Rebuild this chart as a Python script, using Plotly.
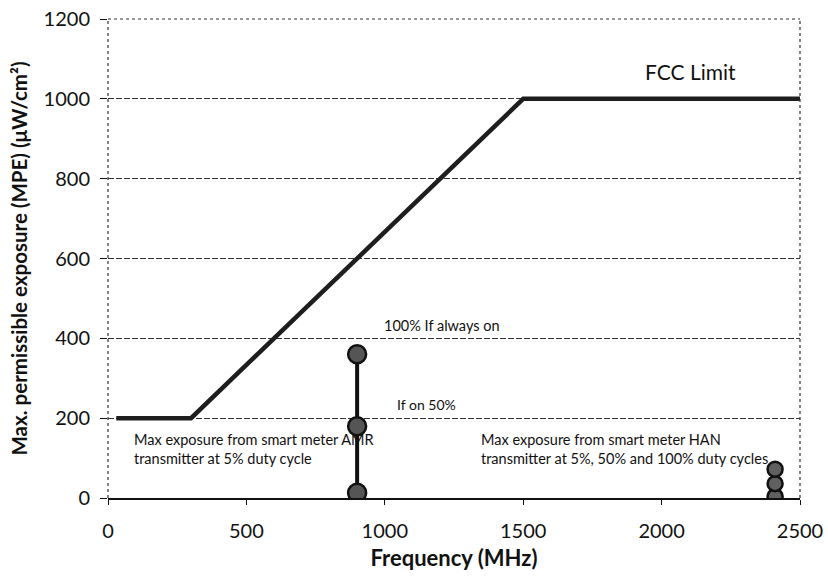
import plotly.graph_objects as go

# Data
fcc_freq = [30, 300, 1500, 2500]
fcc_mpe = [200, 200, 1000, 1000]
amr_freq = [900, 900, 900]
amr_mpe = [13, 180, 360]
han_freq = [2410, 2410, 2410]
han_mpe = [3.6, 36, 72]
x_ticks = [0, 500, 1000, 1500, 2000, 2500]
y_ticks = [0, 200, 400, 600, 800, 1000, 1200]

FONT = "Lato, 'Open Sans', sans-serif"

fig = go.Figure()
fig.add_trace(go.Scatter(x=fcc_freq, y=fcc_mpe, mode="lines",
                         line=dict(color="#1e1e1e", width=4.5), hoverinfo="skip"))
fig.add_trace(go.Scatter(x=amr_freq, y=amr_mpe, mode="lines+markers",
                         line=dict(color="#111", width=4),
                         marker=dict(size=18, color="#555555", line=dict(color="#111", width=2.5))))
fig.add_trace(go.Scatter(x=han_freq, y=han_mpe, mode="markers",
                         marker=dict(size=15, color="#606060", line=dict(color="#111", width=2.5))))

anns = [
    dict(x=1933, y=1069, text="FCC Limit", font=dict(size=21, color="#111"), xanchor="left", yanchor="middle"),
    dict(x=1207, y=405, text="100% If always on", font=dict(size=14.5, color="#111"), xanchor="center", yanchor="bottom"),
    dict(x=1152, y=234, text="If on 50%", font=dict(size=14, color="#111"), xanchor="center", yanchor="middle"),
    dict(x=88, y=124, text="Max exposure from smart meter AMR<br>transmitter at 5% duty cycle",
         font=dict(size=14.5, color="#111"), xanchor="left", yanchor="middle", align="left"),
    dict(x=1342, y=124, text="Max exposure from smart meter HAN<br>transmitter at 5%, 50% and 100% duty cycles",
         font=dict(size=14.5, color="#111"), xanchor="left", yanchor="middle", align="left"),
]
for a in anns:
    fig.add_annotation(showarrow=False, xref="x", yref="y", **a)

# dotted frame left/top/right
for (x0, x1, y0, y1) in [(0, 1, 1, 1), (1, 1, 0, 1), (0, 0, 0, 1)]:
    fig.add_shape(type="line", xref="paper", yref="paper", x0=x0, x1=x1, y0=y0, y1=y1,
                  line=dict(color="#333", width=1.2, dash="dot"))

fig.update_layout(
    width=828, height=578,
    margin=dict(l=108, r=28, t=18.5, b=79.5),
    paper_bgcolor="white", plot_bgcolor="white",
    showlegend=False,
    font=dict(family=FONT, color="#111"),
    xaxis=dict(range=[0, 2500], tickvals=x_ticks, showgrid=False, zeroline=False,
               showline=True, linecolor="#111", linewidth=1.5,
               ticks="outside", ticklen=5, tickcolor="#111", automargin=False,
               ticklabelstandoff=9,
               tickfont=dict(size=20, family=FONT),
               title=dict(text="<b>Frequency (MHz)</b>", font=dict(size=22, family=FONT), standoff=10)),
    yaxis=dict(range=[0, 1200], tickvals=y_ticks, showgrid=True, gridcolor="#333", griddash="6px,2px",
               gridwidth=1, zeroline=False, automargin=False,
               showline=False, ticklabelstandoff=6,
               ticks="outside", ticklen=7, tickcolor="#111",
               tickfont=dict(size=20, family=FONT),
               title=dict(text="<b>Max. permissible exposure (MPE) (μW/cm²)</b>", font=dict(size=20.5, family=FONT), standoff=10)),
)

fig.write_html("out.html", config={"displayModeBar": False},
               post_script="document.body.style.margin='0';")
